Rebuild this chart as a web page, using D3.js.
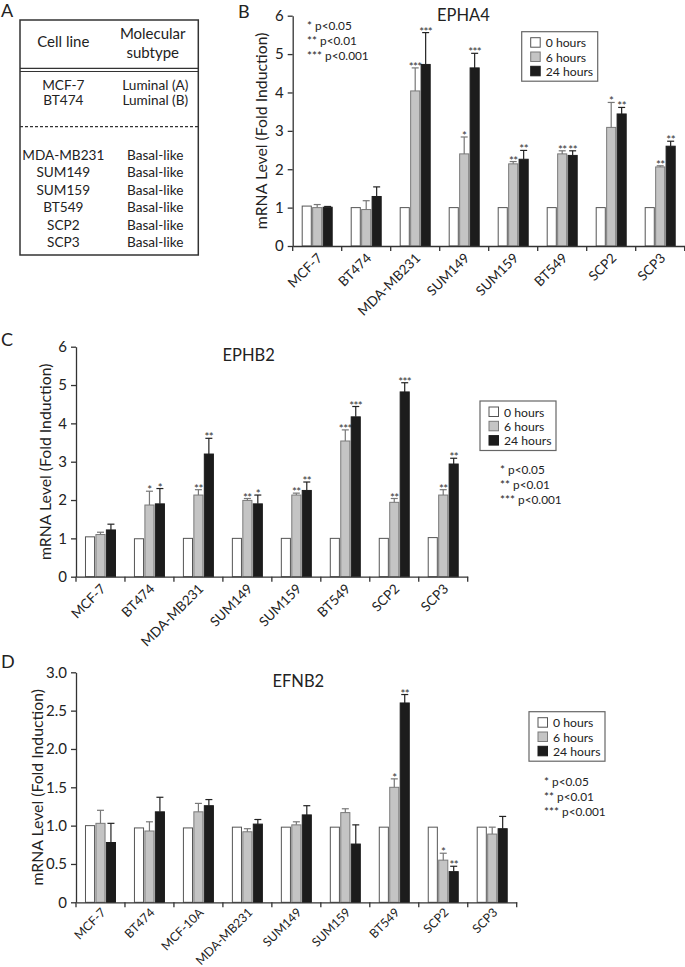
<!DOCTYPE html>
<html><head><meta charset="utf-8">
<script src="https://cdn.jsdelivr.net/npm/d3@7"></script>
<style>
body{margin:0;background:#fff}
svg{display:block}
text{font-family:Lato,"Open Sans",sans-serif;fill:#222}
</style>
</head><body><svg id="c" width="685" height="967"></svg>
<script>
// ---------- data ----------
const tableCellLines = ["MCF-7","BT474","MDA-MB231","SUM149","SUM159","BT549","SCP2","SCP3"];
const tableSubtypes = ["Luminal (A)","Luminal (B)","Basal-like","Basal-like","Basal-like","Basal-like","Basal-like","Basal-like"];
const timeSeries = ["0 hours","6 hours","24 hours"];
const pValueNotes = ["* p<0.05","** p<0.01","*** p<0.001"];

const epha4Cells = ["MCF-7","BT474","MDA-MB231","SUM149","SUM159","BT549","SCP2","SCP3"];
const epha4H0 = [1.04,1.0,1.0,1.0,1.0,1.0,1.0,1.0];
const epha4H6 = [1.0,0.95,4.04,2.40,2.14,2.40,3.09,2.06];
const epha4H6Err = [1.08,1.18,4.64,2.84,2.20,2.48,3.74,2.09];
const epha4H24 = [1.01,1.29,4.73,4.64,2.26,2.36,3.44,2.60];
const epha4H24Err = [1.03,1.54,5.56,5.02,2.49,2.48,3.61,2.73];
const epha4H6Sig = ["","","***","*","**","**","*","**"];
const epha4H24Sig = ["","","***","***","**","**","**","**"];
const epha4Ticks = [0,1,2,3,4,5,6];

const ephb2Cells = ["MCF-7","BT474","MDA-MB231","SUM149","SUM159","BT549","SCP2","SCP3"];
const ephb2H0 = [1.04,0.99,1.0,1.0,1.0,1.0,1.0,1.02];
const ephb2H6 = [1.10,1.87,2.13,1.99,2.13,3.54,1.94,2.13];
const ephb2H6Err = [1.16,2.23,2.27,2.04,2.18,3.83,2.04,2.27];
const ephb2H24 = [1.22,1.90,3.20,1.90,2.25,4.17,4.82,2.94];
const ephb2H24Err = [1.37,2.30,3.61,2.13,2.47,4.44,5.06,3.09];
const ephb2H6Sig = ["","*","**","**","**","***","**","**"];
const ephb2H24Sig = ["","*","**","*","**","***","***","**"];
const ephb2Ticks = [0,1,2,3,4,5,6];

const efnb2Cells = ["MCF-7","BT474","MCF-10A","MDA-MB231","SUM149","SUM159","BT549","SCP2","SCP3"];
const efnb2H0 = [1.0,0.97,0.97,0.98,0.98,0.98,0.98,0.98,0.98];
const efnb2H6 = [1.03,0.93,1.18,0.92,1.01,1.17,1.50,0.55,0.89];
const efnb2H6Err = [1.20,1.05,1.29,0.96,1.05,1.22,1.61,0.64,0.98];
const efnb2H24 = [0.78,1.18,1.26,1.02,1.14,0.76,2.60,0.40,0.96];
const efnb2H24Err = [1.03,1.37,1.34,1.08,1.26,1.01,2.71,0.47,1.12];
const efnb2H6Sig = ["","","","","","","*","*",""];
const efnb2H24Sig = ["","","","","","","**","**",""];
const efnb2Ticks = [0,0.5,1.0,1.5,2.0,2.5,3.0];

// ---------- drawing ----------
const svg = d3.select("#c");
const fills = ["#ffffff","#c4c4c4","#1c1c1c"];
const strokes = ["#555","#7a7a7a","#1c1c1c"];
const errCol = ["#555","#777","#222"];

function panel(o){
  const g = svg.append("g");
  const x = d3.scaleBand().domain(o.cells).range([o.x0,o.x1]);
  const y = d3.scaleLinear().domain([0,o.ymax]).range([o.y0,o.y1]);
  const clusterW = 30;
  const sub = d3.scaleBand().domain([0,1,2]).range([0,clusterW]).paddingInner(0.13);
  const off = (x.bandwidth()-clusterW)/2;
  const series = [o.h0,o.h6,o.h24];
  const errs = [null,o.h6e,o.h24e];
  const sigs = [null,o.h6s,o.h24s];
  o.cells.forEach((c,ci)=>{
    series.forEach((s,si)=>{
      const bx = x(c)+off+sub(si), bw = sub.bandwidth(), cx = bx+bw/2;
      g.append("rect").attr("x",bx).attr("y",y(s[ci])).attr("width",bw)
        .attr("height",y(0)-y(s[ci])).attr("fill",fills[si]).attr("stroke",strokes[si]).attr("stroke-width",1);
      let top = y(s[ci]);
      if(errs[si]){
        const e = errs[si][ci];
        if(e>s[ci]){
          g.append("line").attr("x1",cx).attr("x2",cx).attr("y1",y(s[ci])).attr("y2",y(e)).attr("stroke",errCol[si]).attr("stroke-width",1.2);
          g.append("line").attr("x1",cx-3.5).attr("x2",cx+3.5).attr("y1",y(e)).attr("y2",y(e)).attr("stroke",errCol[si]).attr("stroke-width",1.2);
          top = y(e);
        }
        const sg = sigs[si][ci];
        if(sg){
          g.append("text").attr("x",cx).attr("y",top+3).attr("text-anchor","middle")
            .attr("font-size",11.5).attr("letter-spacing",-0.6).style("fill","#333").text(sg);
        }
      }
    });
  });
  // y axis
  const ya = g.append("g").attr("transform",`translate(${o.x0},0)`)
    .call(d3.axisLeft(y).tickValues(o.ticks).tickFormat(o.fmt).tickSize(5).tickSizeOuter(0).tickPadding(4));
  ya.select(".domain").attr("stroke","#333").attr("stroke-width",1.3);
  ya.selectAll(".tick line").attr("stroke","#333").attr("stroke-width",1.3);
  ya.selectAll(".tick text").attr("font-size",15).style("font-family","Lato").style("fill","#222");
  // x axis
  const xa = g.append("g").attr("transform",`translate(0,${o.y0})`)
    .call(d3.axisBottom(x).tickSize(0).tickSizeOuter(0));
  xa.select(".domain").attr("stroke","#333").attr("stroke-width",1.3);
  xa.selectAll(".tick text").attr("y",0).attr("dy",0).attr("font-size",o.xfs)
    .style("font-family","Lato").style("fill","#222").style("text-anchor","end")
    .attr("transform",`translate(6,${o.xdy}) rotate(-45)`);
  d3.range(o.cells.length+1).forEach(i=>{
    const tx = o.x0 + i*x.step();
    g.append("line").attr("x1",tx).attr("x2",tx).attr("y1",o.y0).attr("y2",o.y0+5).attr("stroke","#333").attr("stroke-width",1.3);
  });
  // y label
  g.append("text").attr("transform",`translate(${o.ylx},${(o.y0+o.y1)/2}) rotate(-90)`)
    .attr("text-anchor","middle").attr("font-size",15.8).text("mRNA Level (Fold Induction)");
  // title
  g.append("text").attr("x",o.tx).attr("y",o.ty).attr("font-size",16.5).text(o.title);
  // legend
  const lg = g.append("g");
  lg.append("rect").attr("x",o.lx).attr("y",o.ly).attr("width",76).attr("height",49.5)
    .attr("fill","#fff").attr("stroke","#666").attr("stroke-width",1.2);
  timeSeries.forEach((t,i)=>{
    const ry = o.ly + 11 + i*14.3;
    lg.append("rect").attr("x",o.lx+9).attr("y",ry-5).attr("width",9.5).attr("height",9.5)
      .attr("fill",fills[i]).attr("stroke",strokes[i]);
    lg.append("text").attr("x",o.lx+24).attr("y",ry+4.5).attr("font-size",12.2).text(t);
  });
  // p-values
  pValueNotes.forEach((p,i)=>{
    g.append("text").attr("x",o.px).attr("y",o.py+i*14.8).attr("font-size",11.8).text(p);
  });
  // panel letter
  g.append("text").attr("x",o.letX).attr("y",o.letY).attr("font-size",18).text(o.letter);
}

panel({cells:epha4Cells,h0:epha4H0,h6:epha4H6,h6e:epha4H6Err,h24:epha4H24,h24e:epha4H24Err,
  h6s:epha4H6Sig,h24s:epha4H24Sig,ticks:epha4Ticks,fmt:d3.format("d"),ymax:6,xfs:13.5,xdy:13,
  x0:292.7,x1:684.7,y0:246,y1:15.7,ylx:267,title:"EPHA4",tx:437,ty:20.5,
  lx:521.7,ly:31.7,px:307,py:30,letter:"B",letX:238,letY:18});

panel({cells:ephb2Cells,h0:ephb2H0,h6:ephb2H6,h6e:ephb2H6Err,h24:ephb2H24,h24e:ephb2H24Err,
  h6s:ephb2H6Sig,h24s:ephb2H24Sig,ticks:ephb2Ticks,fmt:d3.format("d"),ymax:6,xfs:13.5,xdy:13,
  x0:76,x1:467.7,y0:576.7,y1:346.7,ylx:51,title:"EPHB2",tx:222.5,ty:361,
  lx:480,ly:401,px:500,py:474,letter:"C",letX:1,letY:346});

panel({cells:efnb2Cells,h0:efnb2H0,h6:efnb2H6,h6e:efnb2H6Err,h24:efnb2H24,h24e:efnb2H24Err,
  h6s:efnb2H6Sig,h24s:efnb2H24Sig,ticks:efnb2Ticks,fmt:d=>d===0?"0":d3.format(".1f")(d),ymax:3,xfs:12.3,xdy:11,
  x0:76,x1:516.7,y0:902.3,y1:672.3,ylx:43,title:"EFNB2",tx:272.5,ty:686.5,
  lx:529,ly:711.7,px:544,py:786,letter:"D",letX:1,letY:668});

// ---------- table (panel A) ----------
const tg = svg.append("g");
tg.append("text").attr("x",1).attr("y",17).attr("font-size",18).text("A");
tg.append("rect").attr("x",20).attr("y",20).attr("width",178.3).attr("height",235)
  .attr("fill","none").attr("stroke","#333").attr("stroke-width",1.5);
tg.append("line").attr("x1",20).attr("x2",198.3).attr("y1",68.3).attr("y2",68.3).attr("stroke","#333").attr("stroke-width",1.2);
tg.append("line").attr("x1",20).attr("x2",198.3).attr("y1",71.5).attr("y2",71.5).attr("stroke","#333").attr("stroke-width",1.2);
tg.append("line").attr("x1",20).attr("x2",198.3).attr("y1",126.7).attr("y2",126.7).attr("stroke","#333").attr("stroke-width",1.2).attr("stroke-dasharray","3,2");
tg.append("text").attr("x",63.3).attr("y",47).attr("text-anchor","middle").attr("font-size",15).text("Cell line");
tg.append("text").attr("x",152.7).attr("y",38.5).attr("text-anchor","middle").attr("font-size",15).text("Molecular");
tg.append("text").attr("x",152.7).attr("y",58).attr("text-anchor","middle").attr("font-size",15).text("subtype");
const rowY = [85,100,155,172.3,190,207.3,225,242.3];
tableCellLines.forEach((c,i)=>{
  tg.append("text").attr("x",63.3).attr("y",rowY[i]+4.8).attr("text-anchor","middle").attr("font-size",13.6).text(c);
  tg.append("text").attr("x",155.3).attr("y",rowY[i]+4.8).attr("text-anchor","middle").attr("font-size",13.6).text(tableSubtypes[i]);
});
</script>
</body></html>
